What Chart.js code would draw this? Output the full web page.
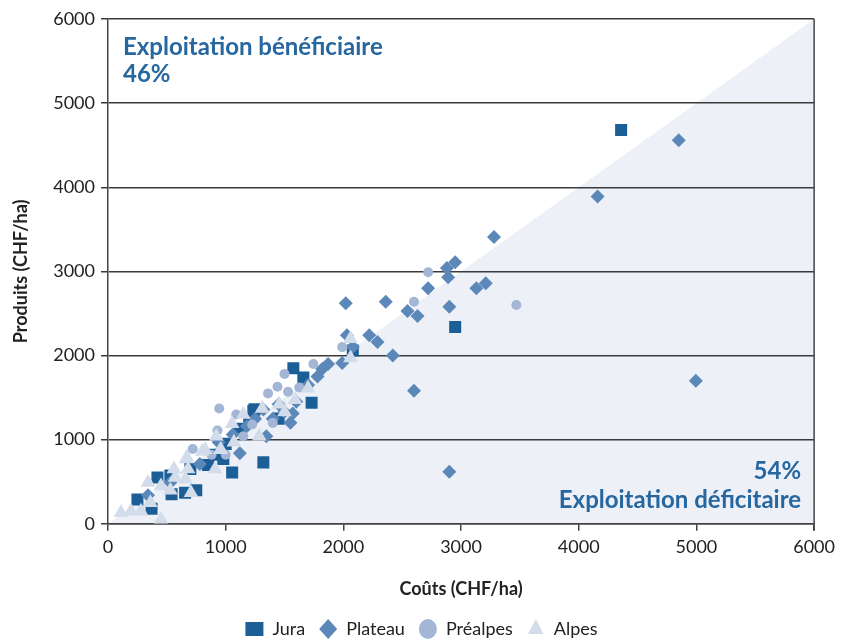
<!DOCTYPE html>
<html><head><meta charset="utf-8">
<script src="https://cdn.jsdelivr.net/npm/chart.js@4/dist/chart.umd.min.js"></script>
<style>html,body{margin:0;padding:0;background:#fff}#wrap{width:841px;height:643px}</style>
</head><body><div id="wrap"><canvas id="c" width="841" height="643"></canvas></div>
<script>
const seriesNames = ["Jura", "Plateau", "Préalpes", "Alpes"];
const xTicks = [0, 1000, 2000, 3000, 4000, 5000, 6000];
const yTicks = [0, 1000, 2000, 3000, 4000, 5000, 6000];
const labelTop = ["Exploitation bénéficiaire", "46%"];
const labelBottom = ["54%", "Exploitation déficitaire"];
const axisTitles = ["Coûts (CHF/ha)", "Produits (CHF/ha)"];

const jura = [[4360,4680],[2950,2340],[2080,2060],[1575,1850],[1660,1740],[1730,1440],[1320,730],[1055,610],[1235,1340],[1120,1130],[1200,1220],[980,770],[850,700],[420,550],[530,575],[250,290],[370,180],[655,370],[750,400],[540,350],[1450,1250],[1000,950],[900,820],[700,650],[1245,1360]];
const plateau = [[4850,4560],[4160,3890],[4995,1700],[3280,3410],[2950,3110],[2880,3040],[2890,2930],[2720,2800],[3130,2800],[3210,2860],[2360,2640],[2020,2620],[2630,2470],[2545,2530],[2900,2580],[2600,1580],[2900,620],[2420,2000],[2290,2160],[2220,2240],[2030,2240],[2080,2100],[1870,1900],[1990,1910],[1820,1840],[1780,1750],[1570,1310],[1550,1200],[1600,1450],[1450,1420],[1320,1360],[1400,1250],[1180,1160],[1120,840],[1060,1060],[1345,1040],[780,710],[530,490],[340,340],[940,970],[1500,1330],[1250,1250],[1700,1650]];
const prealpes = [[3470,2600],[2720,2990],[2600,2640],[1990,2100],[1745,1900],[1500,1780],[1440,1630],[1530,1570],[1625,1620],[945,1370],[1090,1300],[1225,1180],[1400,1200],[1360,1550],[930,1110],[720,890],[1150,1040],[880,820],[1000,820]];
const alpes = [[2060,2200],[2060,1970],[1700,1610],[1500,1330],[1310,1370],[1455,1420],[1590,1475],[1150,1300],[1055,1190],[1285,1040],[1070,970],[920,1040],[955,880],[825,880],[670,790],[450,50],[110,130],[195,150],[280,150],[360,250],[340,490],[450,450],[530,400],[570,550],[705,370],[660,530],[680,650],[665,770],[910,650],[960,880],[800,860],[560,650]];

const toPts = a => a.map(p => ({x: p[0], y: p[1]}));
const FONT = "Lato, 'Open Sans', sans-serif";
const TEXTBLUE = "#2767a0";

const bgPlugin = {
  id: 'bg',
  beforeDraw(chart) {
    const {ctx, scales: {x, y}} = chart;
    ctx.save();
    ctx.fillStyle = "#edf1f7";
    ctx.beginPath();
    ctx.moveTo(x.getPixelForValue(0), y.getPixelForValue(0));
    ctx.lineTo(x.getPixelForValue(6000), y.getPixelForValue(6000));
    ctx.lineTo(x.getPixelForValue(6000), y.getPixelForValue(0));
    ctx.closePath();
    ctx.fill();
    ctx.restore();
  },
  afterDatasetsDraw(chart) {
    const {ctx, chartArea: a} = chart;
    ctx.save();
    ctx.strokeStyle = "#444";
    ctx.lineWidth = 1.5;
    ctx.beginPath();
    ctx.moveTo(a.right, a.top);
    ctx.lineTo(a.right, a.bottom + 7);
    ctx.stroke();
    ctx.fillStyle = TEXTBLUE;
    ctx.font = "bold 24px " + FONT;
    ctx.textAlign = "left";
    ctx.textBaseline = "alphabetic";
    ctx.fillText(labelTop[0], a.left + 15, a.top + 36);
    ctx.fillText(labelTop[1], a.left + 15, a.top + 63);
    ctx.textAlign = "right";
    ctx.fillText(labelBottom[0], a.right - 13, a.bottom - 45);
    ctx.fillText(labelBottom[1], a.right - 13, a.bottom - 16);
    ctx.restore();
  }
};

new Chart(document.getElementById('c'), {
  type: 'scatter',
  data: {
    datasets: [
      {label: seriesNames[0], data: toPts(jura), pointStyle: 'rect', pointRadius: 8.5, backgroundColor: '#1c5f97', borderWidth: 0, order: 4},
      {label: seriesNames[1], data: toPts(plateau), pointStyle: 'rectRot', pointRadius: 7, backgroundColor: '#5b88b9', borderWidth: 0, order: 3},
      {label: seriesNames[2], data: toPts(prealpes), pointStyle: 'circle', pointRadius: 5, backgroundColor: '#a3b6d5', borderWidth: 0, order: 2},
      {label: seriesNames[3], data: toPts(alpes), pointStyle: 'triangle', pointRadius: 8.5, backgroundColor: '#d3dcea', borderWidth: 0, order: 1}
    ]
  },
  options: {
    responsive: false,
    animation: false,
    layout: {padding: {left: 6, right: 4, top: 19, bottom: -5}},
    plugins: {
      tooltip: {enabled: false},
      legend: {
        position: 'bottom',
        labels: {
          usePointStyle: true,
          pointStyleWidth: 18,
          boxHeight: 14,
          font: {family: FONT, size: 18},
          color: '#222',
          padding: 14,
          sort: (a, b) => a.datasetIndex - b.datasetIndex
        }
      }
    },
    scales: {
      x: {
        type: 'linear', min: 0, max: 6000,
        afterBuildTicks: s => { s.ticks = xTicks.map(v => ({value: v})); },
        ticks: {font: {family: FONT, size: 18}, color: '#222', padding: 6, callback: v => String(v)},
        grid: {display: true, drawOnChartArea: false, drawTicks: true, tickLength: 7, color: '#444', lineWidth: 1.5},
        border: {display: true, color: '#444', width: 1.5},
        title: {display: true, text: axisTitles[0], font: {family: FONT, size: 18, weight: 'bold'}, color: '#222', padding: {top: 14, bottom: 6}}
      },
      y: {
        type: 'linear', min: 0, max: 6000,
        afterBuildTicks: s => { s.ticks = yTicks.map(v => ({value: v})); },
        afterFit: s => { s.width = 102; },
        ticks: {font: {family: FONT, size: 18}, color: '#222', padding: 6, callback: v => String(v)},
        grid: {display: true, color: '#3a3a3a', lineWidth: 1.5, tickLength: 7},
        border: {display: true, color: '#444', width: 1.5},
        title: {display: true, text: axisTitles[1], font: {family: FONT, size: 18, weight: 'bold'}, color: '#222', padding: {bottom: 6}}
      }
    }
  },
  plugins: [bgPlugin]
});
</script></body></html>
